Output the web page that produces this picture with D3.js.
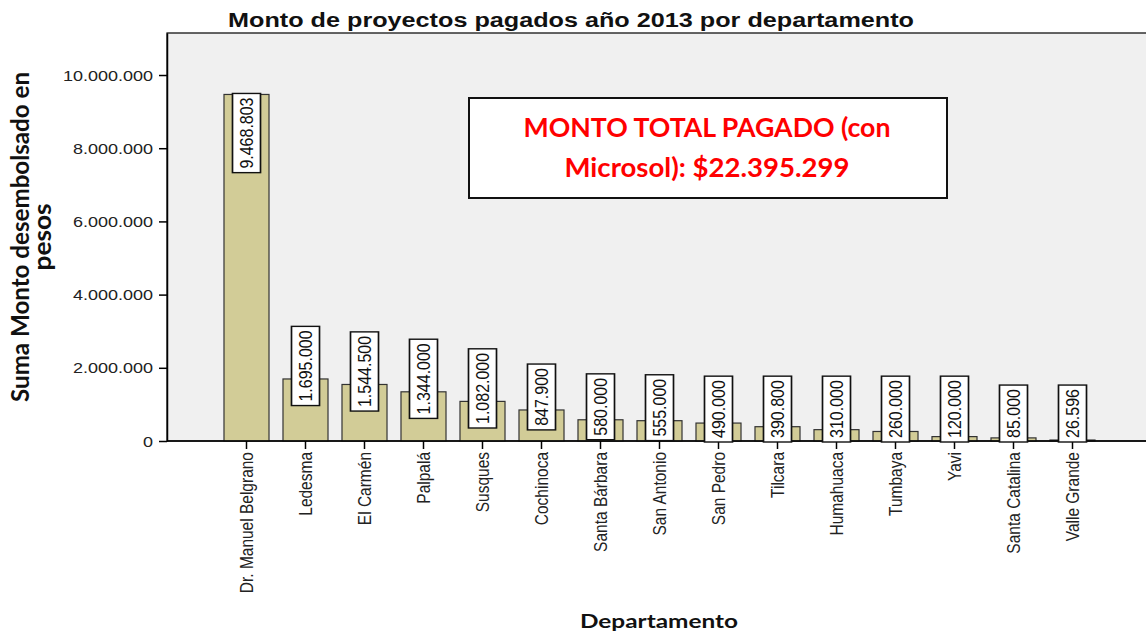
<!DOCTYPE html>
<html>
<head>
<meta charset="utf-8">
<script src="https://cdn.jsdelivr.net/npm/d3@7"></script>
<style>
html,body{margin:0;padding:0;background:#fff;}
svg{display:block;}
</style>
</head>
<body>
<svg id="chart" width="1146" height="637"></svg>
<script>
const categories = ["Dr. Manuel Belgrano","Ledesma","El Carmén","Palpalá","Susques","Cochinoca","Santa Bárbara","San Antonio","San Pedro","Tilcara","Humahuaca","Tumbaya","Yavi","Santa Catalina","Valle Grande"];
const values = [9468803,1695000,1544500,1344000,1082000,847900,580000,555000,490000,390800,310000,260000,120000,85000,26596];
const valueLabels = ["9.468.803","1.695.000","1.544.500","1.344.000","1.082.000","847.900","580.000","555.000","490.000","390.800","310.000","260.000","120.000","85.000","26.596"];
const yTicks = [0,2000000,4000000,6000000,8000000,10000000];
const yTickLabels = ["0","2.000.000","4.000.000","6.000.000","8.000.000","10.000.000"];
const title = "Monto de proyectos pagados año 2013 por departamento";
const xTitle = "Departamento";
const yTitleLines = ["Suma Monto desembolsado en","pesos"];
const noteLines = ["MONTO TOTAL PAGADO (con","Microsol): $22.395.299"];

const SX = 1.2; // horizontal stretch of the original picture
const svg = d3.select("#chart");
const plot = {left:167, top:33, right:1150, bottom:441};

const x = d3.scaleBand().domain(categories).range([217,1102]).paddingInner(0.237).paddingOuter(0.1185);
const y = d3.scaleLinear().domain([0,11148000]).range([plot.bottom, plot.top]);

// plot background
svg.append("rect").attr("x",plot.left).attr("y",plot.top)
  .attr("width",plot.right-plot.left).attr("height",plot.bottom-plot.top)
  .attr("fill","#f0f0f0").attr("stroke","#000").attr("stroke-width",1.2);

// bars
svg.append("g").selectAll("rect").data(values).join("rect")
  .attr("x",(d,i)=>x(categories[i]))
  .attr("y",d=>y(d))
  .attr("width",x.bandwidth())
  .attr("height",d=>y(0)-y(d))
  .attr("fill","#d2cc97").attr("stroke","#333").attr("stroke-width",1.2);

// y axis
const yAxis = d3.axisLeft(y).tickValues(yTicks).tickFormat((d,i)=>yTickLabels[i]).tickSize(8).tickSizeOuter(0).tickPadding(3);
const gy = svg.append("g").attr("transform",`translate(${plot.left},0)`).call(yAxis);
gy.select(".domain").attr("stroke","#000").attr("stroke-width",1.5);
gy.selectAll(".tick line").attr("stroke","#000").attr("stroke-width",1.5);
gy.selectAll(".tick text").each(function(){
  const t = d3.select(this);
  const xx = +t.attr("x");
  t.attr("x",null).attr("dy",null)
   .attr("transform",`translate(${xx-3},5) scale(${SX},1)`)
   .attr("font-family","'Liberation Sans',Arial,sans-serif").attr("font-size",15).attr("fill","#222");
});

// x axis
const xAxis = d3.axisBottom(x).tickSize(8).tickSizeOuter(0).tickFormat("");
const gx = svg.append("g").attr("transform",`translate(0,${plot.bottom})`).call(xAxis);
gx.select(".domain").remove();
gx.selectAll(".tick line").attr("stroke","#000").attr("stroke-width",1.5);
svg.append("line").attr("x1",plot.left).attr("x2",1146).attr("y1",plot.bottom).attr("y2",plot.bottom)
  .attr("stroke","#000").attr("stroke-width",1.5);

// x category labels
svg.append("g").selectAll("text").data(categories).join("text")
  .attr("transform",d=>`translate(${x(d)+x.bandwidth()/2},${plot.bottom+11}) scale(${SX},1) rotate(-90)`)
  .attr("text-anchor","end").attr("dy","0.35em")
  .attr("font-family","'Liberation Sans',Arial,sans-serif").attr("font-size",15.5).attr("fill","#222")
  .text(d=>d);

// value labels in boxes
const lab = svg.append("g");
values.forEach((v,i)=>{
  const cx = x(categories[i]) + x.bandwidth()/2;
  const g = lab.append("g");
  const inner = g.append("g");
  const t = inner.append("text").attr("text-anchor","middle").attr("dy","0.36em")
    .attr("font-family","'Liberation Sans',Arial,sans-serif").attr("font-size",16).attr("fill","#111")
    .text(valueLabels[i]);
  const len = t.node().getComputedTextLength();
  const h = len + 8;
  const barTop = y(v);
  let cy;
  if (y(0) - barTop > h + 20) cy = barTop - 1 + h/2;
  else { cy = barTop - 13; if (cy + h/2 > plot.bottom + 1) cy = plot.bottom + 1 - h/2; }
  inner.insert("rect","text").attr("x",-h/2).attr("y",-28/SX/2).attr("width",h).attr("height",28/SX)
    .attr("fill","#fff").attr("stroke","#111").attr("stroke-width",1.4);
  g.attr("transform",`translate(${cx},${cy}) scale(${SX},1) rotate(-90)`);
});

// title
svg.append("text").attr("transform",`translate(571,27) scale(${SX},1)`)
  .attr("text-anchor","middle").attr("font-family","'Liberation Sans',Arial,sans-serif")
  .attr("font-weight","bold").attr("font-size",21).attr("fill","#111").text(title);

// x title
svg.append("text").attr("x",659).attr("y",628).attr("text-anchor","middle")
  .attr("font-family","Lato,'Open Sans',sans-serif").attr("font-weight","bold").attr("font-size",19)
  .attr("textLength",158).attr("lengthAdjust","spacingAndGlyphs").attr("fill","#111").text(xTitle);

// y title
const yT = [{cx:29, len:330},{cx:51, len:67}];
yTitleLines.forEach((line,i)=>{
  svg.append("text").attr("transform",`translate(${yT[i].cx},237) scale(${SX},1) rotate(-90)`)
    .attr("text-anchor","middle")
    .attr("font-family","Lato,'Open Sans',sans-serif").attr("font-weight","bold").attr("font-size",20)
    .attr("textLength",yT[i].len).attr("lengthAdjust","spacingAndGlyphs").attr("fill","#111").text(line);
});

// annotation box
svg.append("rect").attr("x",469).attr("y",98).attr("width",478).attr("height",100)
  .attr("fill","#fff").attr("stroke","#111").attr("stroke-width",2);
const noteY = [137,177], noteLen = [367,285];
noteLines.forEach((line,i)=>{
  svg.append("text").attr("x",707).attr("y",noteY[i]).attr("text-anchor","middle")
    .attr("font-family","Lato,'Open Sans',sans-serif").attr("font-weight","bold").attr("font-size",26)
    .attr("textLength",noteLen[i]).attr("lengthAdjust","spacingAndGlyphs")
    .attr("fill","#ff0000").text(line);
});
</script>
</body>
</html>
